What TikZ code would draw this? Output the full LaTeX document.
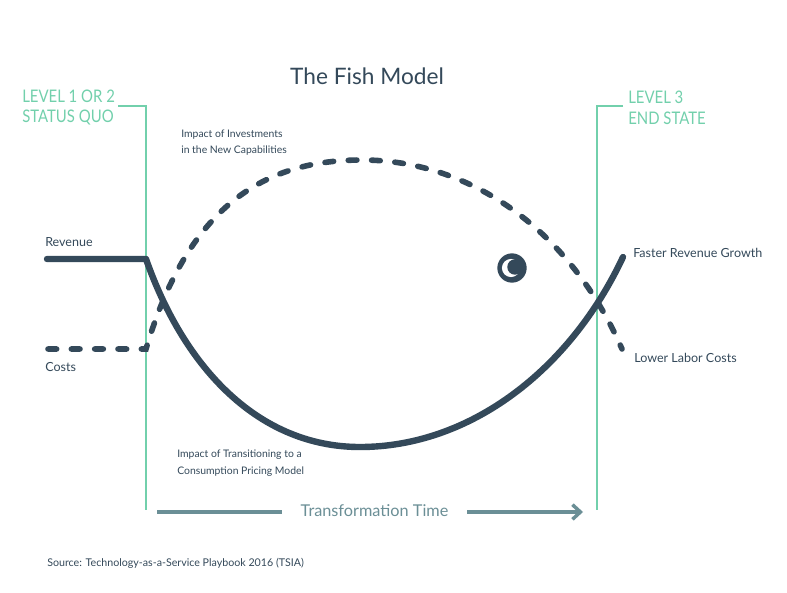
\documentclass[tikz,border=0pt]{standalone}
\usepackage{fontspec}
\usepackage{graphicx}
\setmainfont{Lato}
\newfontfamily\levelfont{Lato}
\newcommand{\levelline}[1]{\scalebox{0.86}[1]{#1}}
\usepackage{tikz}
\usetikzlibrary{arrows.meta, calc, positioning}
\definecolor{fishblue}{HTML}{34495A}
\definecolor{levelgreen}{HTML}{72D0AC}
\definecolor{timegray}{HTML}{6B8F96}
\tikzstyle{level} = [levelgreen, line width=2.2pt]
\tikzstyle{levellabel} = [anchor=west, align=left, text=levelgreen, font=\levelfont\fontsize{13}{15.5}\selectfont, inner sep=0pt]
\tikzstyle{label} = [anchor=west, align=left, text=fishblue, font=\fontsize{9.4}{11}\selectfont, inner sep=0pt]
\tikzstyle{note} = [anchor=west, align=left, text=fishblue, font=\fontsize{7.8}{12.5}\selectfont, inner sep=0pt]
\tikzstyle{revenue} = [fishblue, line width=4.8pt, line cap=round, line join=round]
\tikzstyle{costs} = [fishblue, line width=4.2pt, line cap=round, dash pattern=on 6.5pt off 11pt]
\tikzstyle{timearrow} = [timegray, line width=2.6pt, -{Straight Barb[length=6pt, width=11pt, line width=2.6pt]}]

\begin{document}
\begin{tikzpicture}[x=0.75pt, y=-0.75pt]
		\useasboundingbox [fill=white] (0,0) rectangle (787,592);
		\node (Title) [text=fishblue, font=\fontsize{17}{20}\selectfont] at (367,76) {The Fish Model};
		% status quo and end state
		\coordinate (LeftTop) at (118,106);
		\coordinate (LeftCorner) at (146,106);
		\coordinate (LeftBottom) at (146,510);
		\coordinate (RightTop) at (623,106);
		\coordinate (RightCorner) at (597,106);
		\coordinate (RightBottom) at (597,510);
		\draw [level] (LeftTop) -- (LeftCorner) -- (LeftBottom);
		\draw [level] (RightTop) -- (RightCorner) -- (RightBottom);
		\node (StatusQuo) [levellabel] at (22,107.5) {\levelline{LEVEL 1 OR 2}\\\levelline{STATUS QUO}};
		\node (EndState) [levellabel] at (628,107.5) {\levelline{LEVEL 3}\\\levelline{END STATE}};
		% labels
		\node (Investments) [note] at (181,142.5) {Impact of Investments\\in the New Capabilities};
		\node (Transitioning) [note] at (177,463) {Impact of Transitioning to a\\Consumption Pricing Model};
		\node (Revenue) [label] at (45,242) {Revenue};
		\node (Costs) [label] at (45,367) {Costs};
		\node (Faster) [label] at (633,253) {Faster Revenue Growth};
		\node (Lower) [label] at (634,358) {Lower Labor Costs};
		% curves
		\coordinate (RevenueStart) at (47,259);
		\coordinate (RevenueKnee) at (146,259);
		\coordinate (RevenueBottom) at (360,447);
		\coordinate (RevenueEnd) at (623,257);
		\draw [revenue] (RevenueStart) -- (RevenueKnee) .. controls (185,370) and (260,447) .. (RevenueBottom) .. controls (470,447) and (570,370) .. (RevenueEnd);
		\coordinate (CostsStart) at (48,349);
		\coordinate (CostsKnee) at (146,349);
		\coordinate (CostsTop) at (362,160);
		\coordinate (CostsEnd) at (622,349);
		\draw [costs] (CostsStart) -- (CostsKnee) .. controls (190,200) and (270,160) .. (CostsTop) .. controls (470,160) and (570,230) .. (CostsEnd);
		% eye
		\node (Eye) [circle, fill=fishblue, minimum size=22pt, inner sep=0pt] at (512,268) {};
		\fill [white] ($(Eye.center)+(-1,0)$) circle (6.8pt);
		\fill [fishblue] ($(Eye.center)+(3,-1)$) circle (5.8pt);
		% time axis
		\node (Time) [text=timegray, font=\fontsize{12.2}{15}\selectfont, inner xsep=14pt] at (374.5,511) {Transformation Time};
		\coordinate (TimeStart) at (157,512);
		\coordinate (TimeEnd) at (583,512);
		\draw [timegray, line width=2.6pt] (TimeStart) -- (TimeStart -| Time.west);
		\draw [timearrow] (TimeEnd -| Time.east) -- (TimeEnd);
		\node (Source) [note, font=\fontsize{8}{10}\selectfont] at (47,563) {Source: Technology-as-a-Service Playbook 2016 (TSIA)};
\end{tikzpicture}
\end{document}
